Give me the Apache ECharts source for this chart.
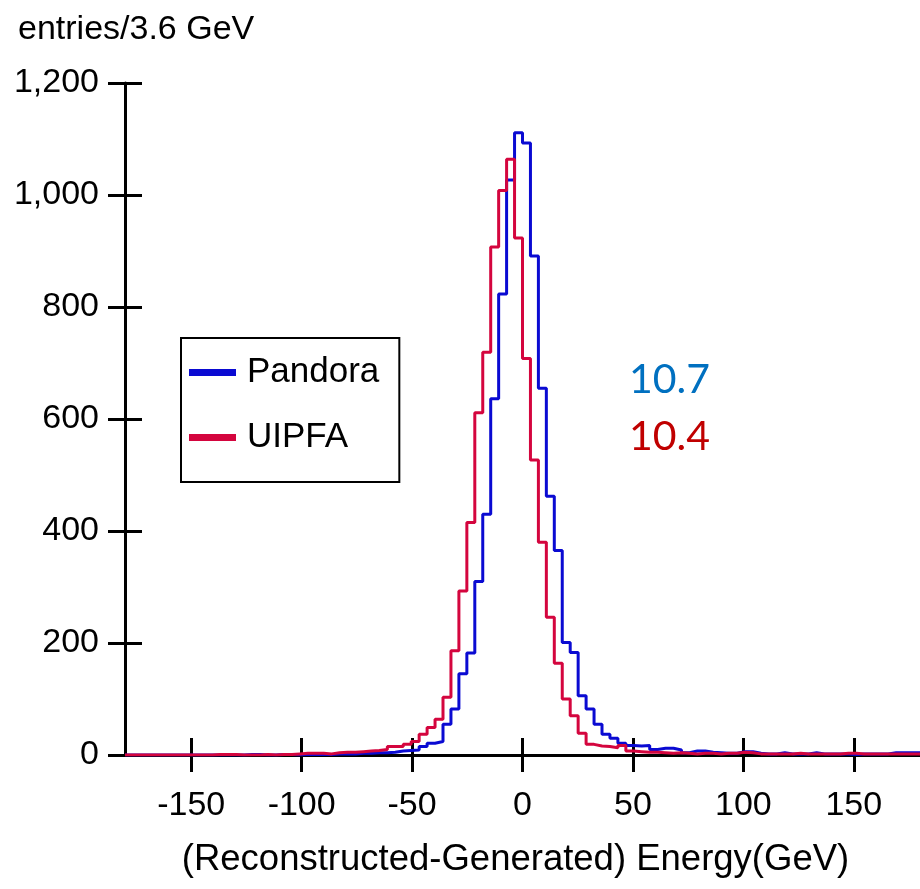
<!DOCTYPE html>
<html><head><meta charset="utf-8">
<script src="https://cdn.jsdelivr.net/npm/echarts@6/dist/echarts.min.js"></script>
<style>html,body{margin:0;padding:0;background:#fff}#c{width:920px;height:889px}</style>
</head><body><div id="c"></div>
<script>
const binMin = -180;
const binWidth = 3.6;
const pandora = [
  0,0,0,0,0,0,0,0,0,0,
  0,0,0,0,0,1,1,0,0,1,
  1,0,1,1,1,1,2,2,2,3,
  3,4,4,5,7,8,9,15,21,24,
  55,82,145,182,310,430,636,823,1027,1111,
  1093,891,655,462,365,201,183,106,82,55,
  37,30,21,17,16,17,10,12,12,9,
  4,7,7,5,4,3,3,6,6,3,
  2,2,4,2,2,2,4,2,2,2,
  2,1,2,2,2,2,4,4,4,4
];
const uipfa = [
  0,0,0,0,0,0,0,0,0,0,
  0,1,1,1,0,0,0,1,0,1,
  1,2,3,3,3,2,4,5,5,6,
  7,8,10,15,15,19,24,37,49,64,
  103,186,293,415,611,719,907,1008,1064,923,
  708,527,380,246,164,100,70,39,19,16,
  15,13,17,7,6,5,5,4,3,4,
  3,2,3,3,2,3,3,5,4,2,
  2,2,2,2,3,2,2,2,2,2,
  3,3,2,2,2,2,2,2,2,2
];
const seriesNames = ['Pandora', 'UIPFA'];
const xTicks = [-150, -100, -50, 0, 50, 100, 150];
const yTicks = [0, 200, 400, 600, 800, 1000, 1200];
const annotations = ['10.7', '10.4'];

function toSteps(vals) {
  const pts = vals.map((v, i) => [binMin + i * binWidth, v]);
  pts.push([binMin + vals.length * binWidth, vals[vals.length - 1]]);
  return pts;
}
const FONT = "'Liberation Sans', Arial, sans-serif";
const chart = echarts.init(document.getElementById('c'), null, {renderer: 'canvas'});
const tickStyle = {color: '#000', width: 3};
chart.setOption({
  animation: false,
  backgroundColor: '#fff',
  title: {
    text: 'entries/3.6 GeV', left: 13, top: 8,
    textStyle: {fontSize: 34, fontWeight: 'normal', color: '#000', fontFamily: FONT}
  },
  grid: {left: 125, right: 0, top: 83, bottom: 134, containLabel: false},
  legend: {
    orient: 'vertical', left: 181, top: 338,
    data: seriesNames, icon: 'rect', itemWidth: 47, itemHeight: 7, itemGap: 30,
    borderColor: '#000', borderWidth: 2, backgroundColor: '#fff',
    padding: [17, 20, 27, 8],
    textStyle: {fontSize: 35, color: '#000', fontFamily: FONT, padding: [0, 0, 0, 6]}
  },
  xAxis: [{
    type: 'value', min: -180, max: 180, position: 'bottom',
    axisLine: {show: true, onZero: false, lineStyle: tickStyle},
    axisTick: {show: true, length: 17, inside: false, customValues: xTicks, lineStyle: tickStyle},
    axisLabel: {customValues: xTicks, fontSize: 34, color: '#000', fontFamily: FONT, margin: 34},
    splitLine: {show: false},
    name: '(Reconstructed-Generated) Energy(GeV)', nameLocation: 'middle', nameGap: 86,
    nameTextStyle: {fontSize: 36.5, color: '#000', fontFamily: FONT, padding: [0, 14, 0, 0]}
  }, {
    type: 'value', min: -180, max: 180, position: 'bottom',
    axisLine: {show: false, onZero: false},
    axisTick: {show: true, length: 17, inside: true, customValues: xTicks, lineStyle: tickStyle},
    axisLabel: {show: false}, splitLine: {show: false}
  }],
  yAxis: [{
    type: 'value', min: 0, max: 1200, position: 'left',
    axisLine: {show: true, onZero: false, lineStyle: tickStyle},
    axisTick: {show: true, length: 17, inside: false, customValues: yTicks, lineStyle: tickStyle},
    axisLabel: {customValues: yTicks, fontSize: 34, color: '#000', fontFamily: FONT, margin: 26,
      formatter: v => v.toLocaleString('en-US')},
    splitLine: {show: false}
  }, {
    type: 'value', min: 0, max: 1200, position: 'left',
    axisLine: {show: false, onZero: false},
    axisTick: {show: true, length: 17, inside: true, customValues: yTicks, lineStyle: tickStyle},
    axisLabel: {show: false}, splitLine: {show: false}
  }],
  series: [{
    name: seriesNames[0], type: 'line', step: 'end', showSymbol: false, symbol: 'none',
    data: toSteps(pandora), color: '#0a0ad2', lineStyle: {width: 3, color: '#0a0ad2'}
  }, {
    name: seriesNames[1], type: 'line', step: 'end', showSymbol: false, symbol: 'none',
    data: toSteps(uipfa), color: '#d4053e', lineStyle: {width: 3, color: '#d4053e'}
  }],
  graphic: [
    {type: 'text', x: 629, y: 380, style: {text: annotations[0], fill: '#0070C0', font: "41px Lato, 'Open Sans', sans-serif", verticalAlign: 'middle', align: 'left'}},
    {type: 'text', x: 629, y: 437, style: {text: annotations[1], fill: '#C00000', font: "41px Lato, 'Open Sans', sans-serif", verticalAlign: 'middle', align: 'left'}}
  ]
});
</script></body></html>
